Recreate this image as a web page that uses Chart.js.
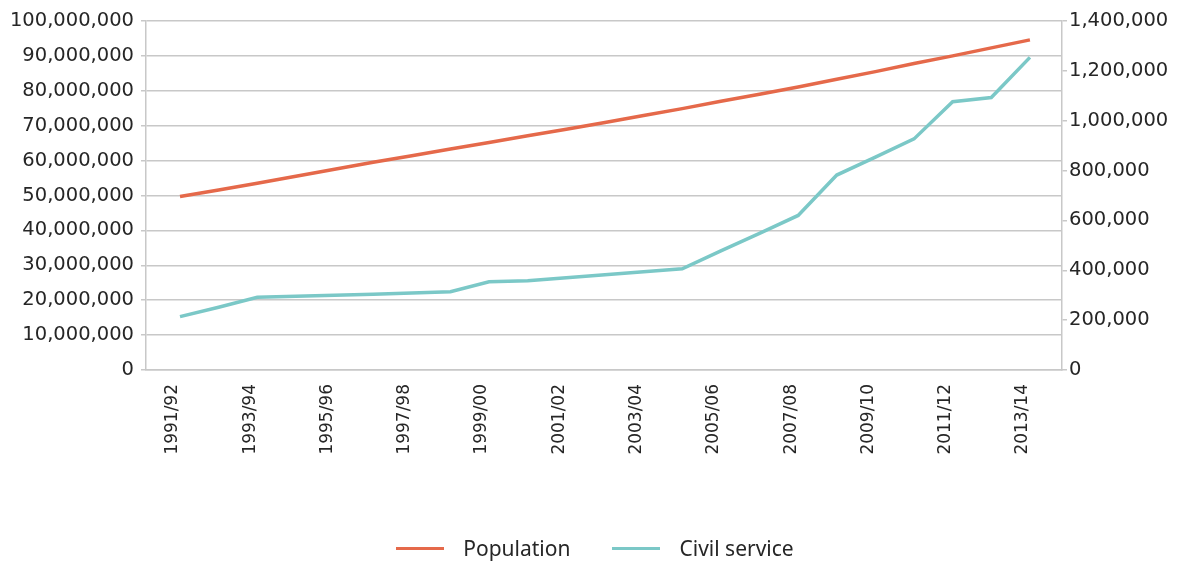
<!DOCTYPE html>
<html>
<head>
<meta charset="utf-8">
<script src="https://cdn.jsdelivr.net/npm/chart.js@4.4.1/dist/chart.umd.min.js"></script>
<style>
  html, body { margin: 0; padding: 0; background: #fff; }
  #wrap { position: relative; width: 1190px; height: 562px; }
  #legend {
    position: absolute; left: 0; top: 533px; width: 1190px;
    display: flex; justify-content: center; gap: 42px;
    font-family: "Noto Sans", sans-serif; font-size: 21px; color: #262626;
  }
  #legend .item { display: flex; align-items: center; gap: 19px; line-height: 30px; }
  #legend .swatch { width: 48px; height: 3px; }
</style>
</head>
<body>
<div id="wrap">
  <canvas id="myChart"></canvas>
  <div id="legend"></div>
</div>
<script>
const years = [
  '1991/92', '1992/93', '1993/94', '1994/95', '1995/96', '1996/97',
  '1997/98', '1998/99', '1999/00', '2000/01', '2001/02', '2002/03',
  '2003/04', '2004/05', '2005/06', '2006/07', '2007/08', '2008/09',
  '2009/10', '2010/11', '2011/12', '2012/13', '2013/14'
];

const population = [
  49700000, 51600000, 53500000, 55500000, 57500000, 59500000,
  61400000, 63300000, 65200000, 67100000, 69000000, 70900000,
  72900000, 74900000, 77000000, 79000000, 81100000, 83300000,
  85500000, 87800000, 90000000, 92300000, 94600000
];

const civilService = [
  214000, 252000, 292000, 296000, 300000, 304000,
  309000, 314000, 354000, 358000, 370000, 382000,
  394000, 406000, 478000, 548000, 620000, 782000,
  854000, 927000, 1076000, 1093000, 1254000
];

const seriesNames = ['Population', 'Civil service'];
const seriesColors = ['#E5694A', '#7BC8C7'];

const gridGray = '#c8c8c8';
const textColor = '#262626';
const tickFont = { family: 'DejaVu Sans', size: 19.5 };

const asPoints = arr => arr.map((v, i) => ({ x: i, y: v }));

const ctx = document.getElementById('myChart');

const chart = new Chart(ctx, {
  type: 'line',
  data: {
    datasets: [
      {
        label: seriesNames[0],
        data: asPoints(population),
        yAxisID: 'yPop',
        borderColor: seriesColors[0],
        backgroundColor: seriesColors[0],
        borderWidth: 3.5,
        pointRadius: 0,
        tension: 0
      },
      {
        label: seriesNames[1],
        data: asPoints(civilService),
        yAxisID: 'yCivil',
        borderColor: seriesColors[1],
        backgroundColor: seriesColors[1],
        borderWidth: 3.5,
        pointRadius: 0,
        tension: 0
      }
    ]
  },
  options: {
    responsive: true,
    maintainAspectRatio: false,
    animation: false,
    layout: { padding: { top: 21, left: 0, right: 0, bottom: 62 } },
    plugins: {
      legend: { display: false },
      tooltip: { enabled: false }
    },
    scales: {
      x: {
        type: 'linear',
        min: -0.88,
        max: 22.83,
        grid: { display: false, drawTicks: false },
        border: { color: gridGray, width: 1.5 },
        ticks: {
          stepSize: 2,
          includeBounds: false,
          autoSkip: false,
          minRotation: 90,
          maxRotation: 90,
          padding: 14,
          labelOffset: -7,
          color: textColor,
          font: { family: 'DejaVu Sans', size: 17 },
          callback: v => years[v]
        },
        afterFit: s => { s.height = 130; }
      },
      yPop: {
        position: 'left',
        min: 0,
        max: 100000000,
        grid: { color: gridGray, lineWidth: 1.5, tickLength: 5 },
        border: { color: gridGray, width: 1.5 },
        ticks: {
          stepSize: 10000000,
          padding: 7,
          color: textColor,
          font: tickFont,
          callback: v => v.toLocaleString('en-US')
        },
        afterFit: s => { s.width = 146; }
      },
      yCivil: {
        position: 'right',
        min: 0,
        max: 1400000,
        grid: { drawOnChartArea: false, color: gridGray, lineWidth: 1.5, tickLength: 5 },
        border: { color: gridGray, width: 1.5 },
        ticks: {
          stepSize: 200000,
          padding: 2,
          color: textColor,
          font: tickFont,
          callback: v => v.toLocaleString('en-US')
        },
        afterFit: s => { s.width = 128; }
      }
    }
  }
});

// legend built from the chart's own datasets
const legendBox = document.getElementById('legend');
chart.data.datasets.forEach(ds => {
  const item = document.createElement('div');
  item.className = 'item';
  const swatch = document.createElement('span');
  swatch.className = 'swatch';
  swatch.style.background = ds.borderColor;
  const label = document.createElement('span');
  label.textContent = ds.label;
  item.append(swatch, label);
  legendBox.append(item);
});
</script>
</body>
</html>
